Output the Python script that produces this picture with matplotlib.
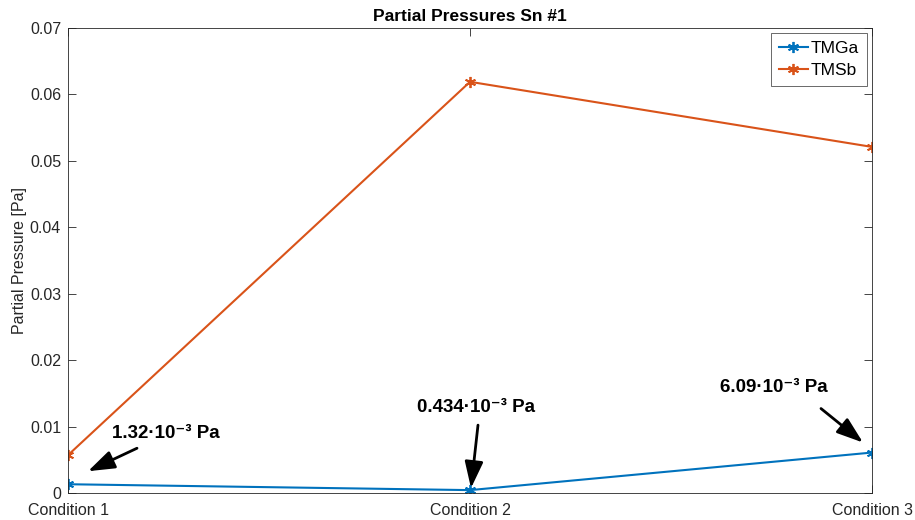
import matplotlib
matplotlib.use("Agg")
import matplotlib.pyplot as plt
import numpy as np

plt.rcParams['font.family'] = ['Liberation Sans', 'DejaVu Sans']

conditions = ["Condition 1", "Condition 2", "Condition 3"]
tmga = [0.00132, 0.000434, 0.00609]
tmsb = [0.0057, 0.0619, 0.0521]
yticks = [0, 0.01, 0.02, 0.03, 0.04, 0.05, 0.06, 0.07]
ytick_labels = ["0", "0.01", "0.02", "0.03", "0.04", "0.05", "0.06", "0.07"]
notes = ["1.32\u00b710\u207b\u00b3 Pa",
         "0.434\u00b710\u207b\u00b3 Pa",
         "6.09\u00b710\u207b\u00b3 Pa"]

W, H = 915, 520
fig = plt.figure(figsize=(W / 100, H / 100), dpi=100)
ax = fig.add_axes([68 / W, 1 - 493 / H, (872 - 68) / W, (493 - 28) / H])

x = np.arange(1, len(conditions) + 1)
ast = (6, 2, 0)
ax.plot(x, tmga, color='#0072BD', marker=ast, markersize=8, mew=1.3, lw=1.5, label='TMGa')
ax.plot(x, tmsb, color='#D95319', marker=ast, markersize=8, mew=1.3, lw=1.5, label='TMSb')

ax.set_xlim(1, 3)
ax.set_ylim(0, 0.07)
ax.set_xticks(x)
ax.set_xticklabels(conditions)
ax.set_yticks(yticks)
ax.set_yticklabels(ytick_labels)
ax.tick_params(direction='in', length=6, width=0.6, colors='#262626',
               labelsize=11.5, top=True, right=True, pad=5)
ax.tick_params(axis='x', pad=7)
for s in ax.spines.values():
    s.set_color('#262626')
    s.set_linewidth(0.6)
ax.set_title("Partial Pressures Sn #1", fontsize=12.5, fontweight='bold', pad=5)
ax.set_ylabel("Partial Pressure [Pa]", fontsize=11.5, color='#262626', labelpad=2)

leg = ax.legend(loc='upper right', fontsize=12.5, frameon=True, fancybox=False,
                borderaxespad=0.3, handlelength=1.7, borderpad=0.45,
                labelspacing=0.4, handletextpad=0.15)
leg.get_frame().set_edgecolor('#262626')
leg.get_frame().set_linewidth(0.6)

# arrow tip offset, tail offset from tip, text offset (figure pixels from data point)
tip_off = [(20, 13), (1, 2), (-9, 10)]
tail_off = [(49, 23), (7, 63), (-42, 34)]
text_off = [(98, 51), (6, 83), (-98, 65)]
for i, yv in enumerate(tmga):
    px, py = ax.transData.transform((x[i], yv))
    tip = (px + tip_off[i][0], py + tip_off[i][1])
    tail = (tip[0] + tail_off[i][0], tip[1] + tail_off[i][1])
    ax.annotate('', xy=tip, xycoords='figure pixels', xytext=tail,
                textcoords='figure pixels',
                arrowprops=dict(arrowstyle='-|>,head_length=0.95,head_width=0.33',
                                mutation_scale=17, color='k', lw=2,
                                shrinkA=0, shrinkB=0),
                annotation_clip=False)
    fig.text((px + text_off[i][0]) / W, (py + text_off[i][1]) / H, notes[i],
             fontsize=13.5, fontweight='bold', ha='center', va='center')

fig.savefig("out.png", dpi=100)
